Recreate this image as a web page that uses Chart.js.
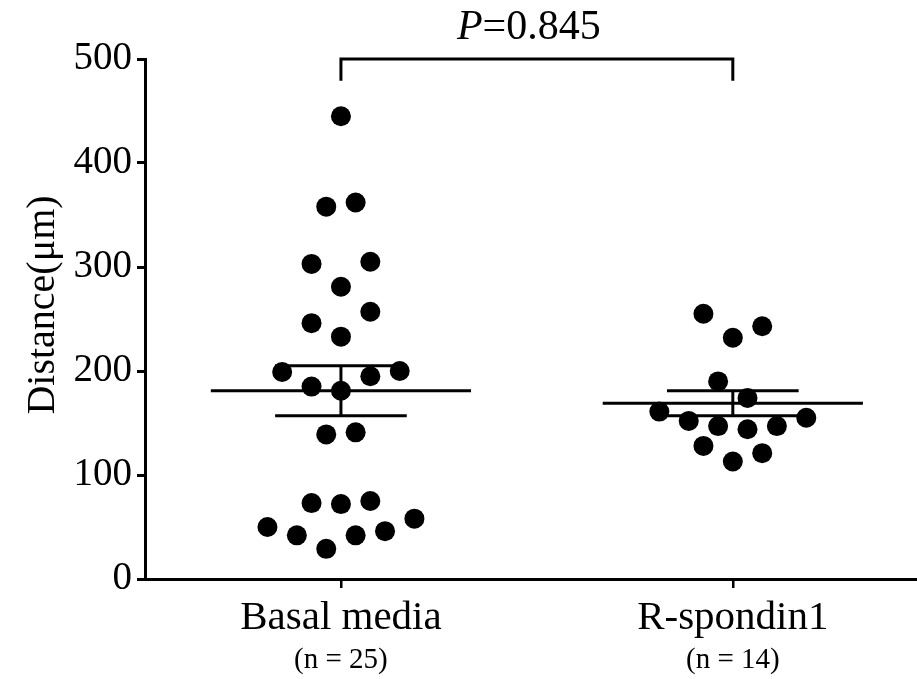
<!DOCTYPE html>
<html>
<head>
<meta charset="utf-8">
<script src="https://cdn.jsdelivr.net/npm/chart.js@4/dist/chart.umd.min.js"></script>
<style>
  html, body { margin: 0; padding: 0; background: #fff; }
  #wrap { width: 917px; height: 679px; }
</style>
</head>
<body>
<div id="wrap"><canvas id="distanceChart"></canvas></div>
<script>
// values
const categories = ["Basal media", "R-spondin1"];
const sampleLabels = ["(n = 25)", "(n = 14)"];
const basalValues = [445, 358, 362, 303, 305, 281, 257, 246, 233, 199, 200, 195, 185, 181,
  139, 141, 73, 72, 75, 50, 42, 29, 42, 46, 58];
const rspondinValues = [243, 255, 232, 190, 174, 161, 152, 147, 144, 147, 155, 128, 113, 121];
const meanValues = [181, 169];
const semValues = [24, 12];
const pText = "=0.845";
const yTitle = "Distance(\u03bcm)";

const FONT = "'Liberation Serif', 'Times New Roman', serif";
const ROW_SPAN = 29.5;   // values closer than this share a row in the swarm
const STEP = 0.075;      // horizontal spacing between dots, in category units

// GraphPad-like swarm: group into rows from the bottom, spread each row symmetrically
function swarm(values, center, rightFirst) {
  const sorted = values.slice().sort((a, b) => a - b);
  const rows = [];
  sorted.forEach(v => {
    const row = rows[rows.length - 1];
    if (row && v - row[0] <= ROW_SPAN) row.push(v);
    else rows.push([v]);
  });
  const pts = [];
  rows.forEach(row => {
    const desc = row.slice().sort((a, b) => b - a);
    let hi = (desc.length - 1) / 2, lo = -hi, right = rightFirst;
    desc.forEach(v => {
      let slot;
      if (right) { slot = hi; hi -= 1; } else { slot = lo; lo += 1; }
      right = !right;
      pts.push({ x: center + slot * STEP, y: v });
    });
  });
  return pts;
}

const extras = {
  id: "extras",
  afterDatasetsDraw(chart) {
    const { ctx, chartArea, scales: { x, y } } = chart;
    ctx.save();
    ctx.strokeStyle = "#000";
    ctx.fillStyle = "#000";
    ctx.lineWidth = 3;

    const seg = (x1, y1, x2, y2) => {
      ctx.beginPath(); ctx.moveTo(x1, y1); ctx.lineTo(x2, y2); ctx.stroke();
    };

    // mean +/- SEM
    meanValues.forEach((m, i) => {
      const c = i + 1;
      const s = semValues[i];
      seg(x.getPixelForValue(c - 0.332), y.getPixelForValue(m), x.getPixelForValue(c + 0.332), y.getPixelForValue(m));
      seg(x.getPixelForValue(c - 0.168), y.getPixelForValue(m + s), x.getPixelForValue(c + 0.168), y.getPixelForValue(m + s));
      seg(x.getPixelForValue(c - 0.168), y.getPixelForValue(m - s), x.getPixelForValue(c + 0.168), y.getPixelForValue(m - s));
      seg(x.getPixelForValue(c), y.getPixelForValue(m - s), x.getPixelForValue(c), y.getPixelForValue(m + s));
    });

    // significance bracket
    const bx1 = x.getPixelForValue(1), bx2 = x.getPixelForValue(2);
    const by = y.getPixelForValue(500), byEnd = y.getPixelForValue(479);
    ctx.beginPath();
    ctx.moveTo(bx1, byEnd); ctx.lineTo(bx1, by); ctx.lineTo(bx2, by); ctx.lineTo(bx2, byEnd);
    ctx.stroke();

    ctx.textBaseline = "alphabetic";
    ctx.textAlign = "left";
    ctx.font = "italic 42px " + FONT;
    const wP = ctx.measureText("P").width;
    ctx.font = "42px " + FONT;
    const wRest = ctx.measureText(pText).width;
    const tx = (bx1 + bx2) / 2 - 8 - (wP + wRest) / 2;
    const ty = by - 20;
    ctx.font = "italic 42px " + FONT;
    ctx.fillText("P", tx, ty);
    ctx.font = "42px " + FONT;
    ctx.fillText(pText, tx + wP, ty);

    // group sizes under the category labels
    ctx.font = "29px " + FONT;
    ctx.textAlign = "center";
    sampleLabels.forEach((t, i) => {
      ctx.fillText(t, x.getPixelForValue(i + 1), chartArea.bottom + 89);
    });

    // y axis title
    ctx.translate(43, 305);
    ctx.rotate(-Math.PI / 2);
    ctx.font = "40px " + FONT;
    ctx.textBaseline = "middle";
    ctx.fillText(yTitle, 0, 0);
    ctx.restore();
  }
};

document.addEventListener("DOMContentLoaded", () => {
  new Chart(document.getElementById("distanceChart"), {
    type: "scatter",
    data: {
      datasets: [
        { data: swarm(basalValues, 1, true) },
        { data: swarm(rspondinValues, 2, false) }
      ]
    },
    options: {
      responsive: true,
      maintainAspectRatio: false,
      animation: false,
      layout: { autoPadding: false, padding: { top: 59, left: 0, right: 0, bottom: 0 } },
      elements: {
        point: { radius: 10, backgroundColor: "#000", borderWidth: 0, hoverRadius: 10 }
      },
      plugins: {
        legend: { display: false },
        tooltip: { enabled: false }
      },
      scales: {
        x: {
          type: "linear",
          min: 0.5,
          max: 2.47,
          afterBuildTicks: (scale) => {
            scale.ticks = categories.map((c, i) => ({ value: i + 1 }));
          },
          afterFit: (scale) => { scale.height = 100; },
          ticks: {
            callback: (value) => categories[Math.round(value) - 1],
            color: "#000",
            font: { family: FONT, size: 41 },
            padding: 6,
            maxRotation: 0,
            autoSkip: false
          },
          grid: { drawOnChartArea: false, tickLength: 9, lineWidth: 2.5, color: "#000" },
          border: { color: "#000", width: 3 }
        },
        y: {
          min: 0,
          max: 500,
          afterFit: (scale) => { scale.width = 145; },
          ticks: {
            stepSize: 100,
            color: "#000",
            font: { family: FONT, size: 39 },
            padding: 5
          },
          grid: { drawOnChartArea: false, tickLength: 8, lineWidth: 3, color: "#000" },
          border: { color: "#000", width: 3 }
        }
      }
    },
    plugins: [extras]
  });
});
</script>
</body>
</html>
